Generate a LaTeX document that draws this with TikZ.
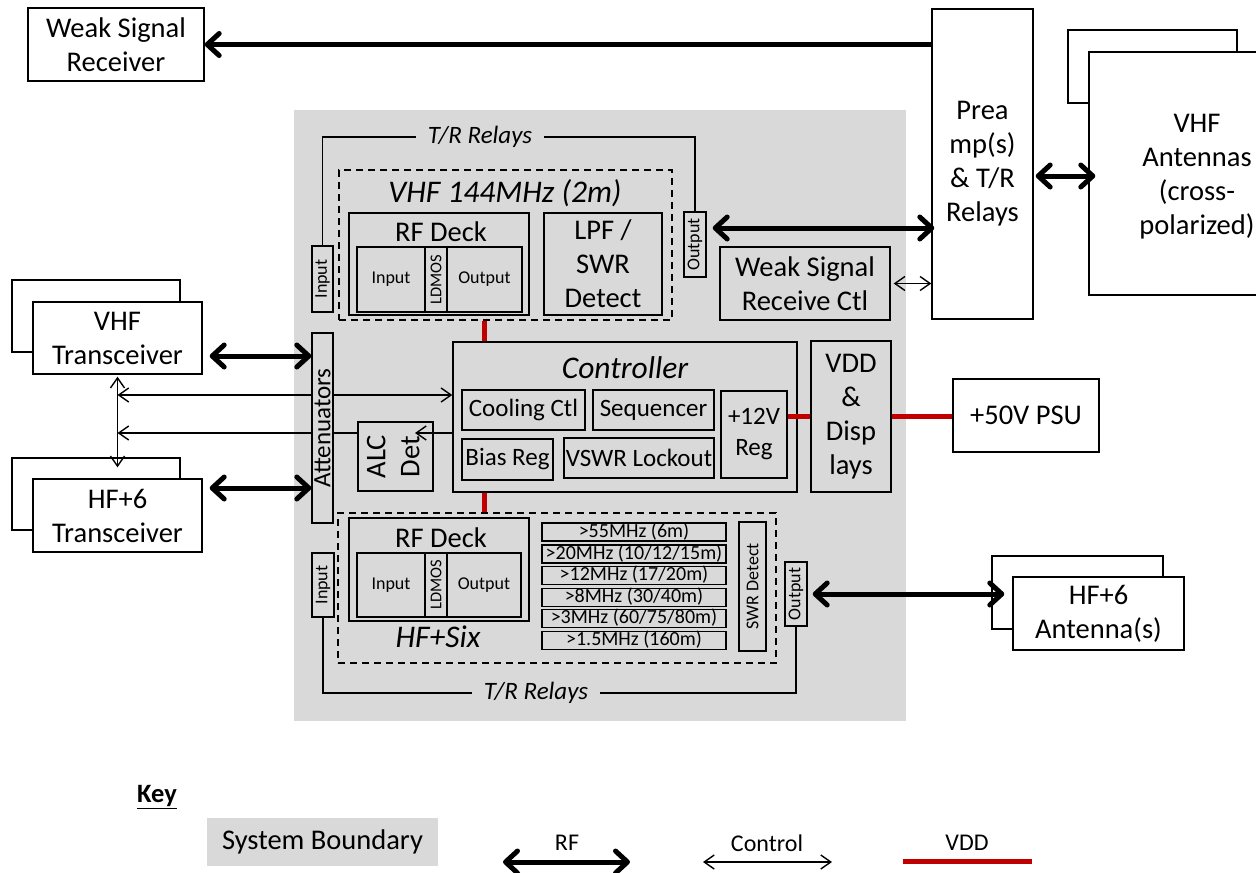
\documentclass[tikz,border=0pt]{standalone}
\usepackage{fontspec}
\setmainfont{Carlito}
\usetikzlibrary{arrows.meta,backgrounds}

\definecolor{sysgray}{HTML}{D9D9D9}
\definecolor{vddred}{HTML}{C00000}

\tikzset{
  rfhead/.tip={Straight Barb[length=12pt,width=22pt,round]},
  ctlhead/.tip={Straight Barb[length=10pt,width=14pt]},
}

\begin{document}
\begin{tikzpicture}[
  x=1pt, y=-1pt,
  blk/.style={draw, line width=1.4pt, fill=white, inner sep=0pt, align=center,
    font=\fontsize{28.5}{34}\selectfont},
  gblk/.style={blk, fill=sysgray},
  med/.style={font=\fontsize{25}{31}\selectfont},
  sml/.style={font=\fontsize{18}{21}\selectfont},
  band/.style={gblk, minimum width=184, minimum height=18, text height=14pt,
    text depth=4pt, font=\fontsize{20}{22}\selectfont},
  zone/.style={draw, line width=1.4pt, dash pattern=on 7pt off 5pt, inner sep=0pt},
  ttl/.style={inner sep=0pt, font=\fontsize{31.5}{37}\selectfont\itshape},
  relay/.style={fill=sysgray, inner xsep=12pt, inner ysep=2pt,
    font=\fontsize{25}{29}\selectfont\itshape},
  klbl/.style={inner sep=0pt, font=\fontsize{24}{28}\selectfont},
  wire/.style={line width=1.4pt},
  rf/.style={line width=5pt, arrows={rfhead-rfhead}},
  ctl/.style={line width=1.4pt, arrows={ctlhead-ctlhead}},
  vdd/.style={line width=5pt, vddred},
]
\useasboundingbox (0,0) rectangle (1256,873);

% system boundary
\begin{pgfonlayer}{background}
\node[fill=sysgray, inner sep=0pt, minimum width=612, minimum height=611] (sys) at (600,415.5) {};
\end{pgfonlayer}

% outside the boundary
\node[blk, minimum width=176, minimum height=73] (wsr) at (116,44.5) {Weak Signal\\Receiver};
\node[blk, minimum width=101, minimum height=310] (pre) at (982.5,164) {Prea\\mp(s)\\\& T/R\\Relays};
\node[blk, minimum width=169, minimum height=73] (vantb) at (1152.5,66.5) {};
\node[blk, minimum width=216, minimum height=243] (vant) at (1197,173.5) {};
\node[inner sep=0pt, align=center, font=\fontsize{28.5}{34}\selectfont] (vantt) at (1197,177) {VHF\\Antennas\\(cross-\\polarized)};
\node[blk, minimum width=168, minimum height=72] (vtxb) at (96,316) {};
\node[blk, minimum width=169, minimum height=72] (vtx) at (117.5,338) {VHF\\Transceiver};
\node[blk, minimum width=168, minimum height=72] (htxb) at (96,494) {};
\node[blk, minimum width=169, minimum height=73] (htx) at (117.5,515.5) {HF+6\\Transceiver};
\node[blk, minimum width=146, minimum height=73] (psu) at (1026,415.5) {+50V PSU};
\node[blk, minimum width=171, minimum height=73] (hantb) at (1077.5,592.5) {};
\node[blk, minimum width=171, minimum height=73] (hant) at (1098.5,613.5) {HF+6\\Antenna(s)};

% VHF deck
\node[relay] (vtr) at (480,137) {T/R Relays};
\node[zone, minimum width=333, minimum height=150] (vzone) at (505.5,245) {};
\node[ttl] (vname) at (505,193) {VHF 144MHz (2m)};
\node[gblk, sml, minimum width=21, minimum height=66] (vin) at (322.5,279) {\rotatebox{90}{Input}};
\node[gblk, sml, minimum width=22, minimum height=65] (vout) at (695,244.5) {\rotatebox{90}{Output}};
\node[gblk, minimum width=180, minimum height=102] (vrf) at (439,264) {};
\node[inner sep=0pt, font=\fontsize{28.5}{34}\selectfont] (vdeck) at (441,232) {RF Deck};
\node[gblk, sml, minimum width=68, minimum height=65] (vrfin) at (391,279.5) {Input};
\node[gblk, font=\fontsize{16.5}{19}\selectfont, minimum width=22, minimum height=65] (vld) at (436,279.5) {\rotatebox{90}{LDMOS}};
\node[gblk, sml, minimum width=75, minimum height=65] (vrfout) at (484.5,279.5) {Output};
\node[gblk, minimum width=118, minimum height=102] (vlpf) at (603,264) {LPF /\\SWR\\Detect};
\node[gblk, minimum width=170, minimum height=73] (wsctl) at (805,283.5) {Weak Signal\\Receive Ctl};

% controller
\node[gblk, med, minimum width=21, minimum height=190] (att) at (322.5,428) {\rotatebox{90}{Attenuators}};
\node[gblk, minimum width=75, minimum height=69] (alc) at (395.5,456.5)
  {\rotatebox{90}{\begin{tabular}{@{}c@{}}ALC\\Det\end{tabular}}};
\node[gblk, minimum width=344, minimum height=150] (ctrl) at (625,417) {};
\node[ttl] (cname) at (625,368) {Controller};
\node[gblk, med, minimum width=123, minimum height=40] (cool) at (523.5,410) {Cooling Ctl};
\node[gblk, med, minimum width=121, minimum height=40] (seq) at (653.5,410) {Sequencer};
\node[gblk, med, minimum width=91, minimum height=41] (bias) at (507.5,459.5) {Bias Reg};
\node[gblk, med, minimum width=150, minimum height=40] (vswr) at (639,458) {VSWR Lockout};
\node[gblk, med, minimum width=66, minimum height=87] (reg) at (754,434.5) {+12V\\Reg};
\node[gblk, minimum width=80, minimum height=151] (vddb) at (851,416.5) {VDD\\\&\\Disp\\lays};

% HF deck
\node[zone, minimum width=438, minimum height=150] (hzone) at (557,588) {};
\node[gblk, minimum width=180, minimum height=103] (hrf) at (439,569.5) {};
\node[inner sep=0pt, font=\fontsize{28.5}{34}\selectfont] (hdeck) at (441,538) {RF Deck};
\node[gblk, sml, minimum width=68, minimum height=64] (hrfin) at (391,585) {Input};
\node[gblk, font=\fontsize{16.5}{19}\selectfont, minimum width=22, minimum height=64] (hld) at (436,585) {\rotatebox{90}{LDMOS}};
\node[gblk, sml, minimum width=74, minimum height=64] (hrfout) at (484,585) {Output};
\node[ttl] (hname) at (438,637) {HF+Six};
\foreach \yb/\band [count=\i] in {532/{>55MHz (6m)}, 554/{>20MHz (10/12/15m)},
    575.5/{>12MHz (17/20m)}, 597.5/{>8MHz (30/40m)}, 618.5/{>3MHz (60/75/80m)},
    640.5/{>1.5MHz (160m)}}
  \node[band] (band\i) at (634,\yb) {\band};
\node[gblk, sml, minimum width=27, minimum height=129] (swr) at (752.5,586.5) {\rotatebox{90}{SWR Detect}};
\node[gblk, sml, minimum width=22, minimum height=64] (hin) at (323,585) {\rotatebox{90}{Input}};
\node[gblk, sml, minimum width=22, minimum height=64] (hout) at (796,594) {\rotatebox{90}{Output}};
\node[relay] (htr) at (536,693) {T/R Relays};

% relay loops
\draw[wire] (vin.north) |- (vtr) -| (vout.north);
\draw[wire] (hin.south) |- (htr) -| (hout.south);

% RF paths
\coordinate (voutr) at ([yshift=16.5pt]vout.east);
\coordinate (vtxr) at ([yshift=-18pt]vtx.east);
\coordinate (htxr) at ([yshift=27.5pt]htx.east);
\draw[rf, arrows={-rfhead}] (pre.west |- wsr) -- (wsr.east);
\draw[rf, shorten <=6pt, shorten >=-3pt] (voutr) -- (voutr -| pre.west);
\draw[rf, shorten <=2pt, shorten >=-7pt] ([yshift=-2.5pt]vant.west -| pre.east) -- ([yshift=-2.5pt]vant.west);
\draw[rf, shorten <=7pt] (vtxr) -- (vtxr -| att.west);
\draw[rf, shorten <=7pt] (htxr) -- (htxr -| att.west);
\draw[rf, shorten <=5pt, shorten >=8pt] (hout.east) -- (hout.east -| hant.west);

% control paths
\coordinate (tapa) at (117.5,395);
\coordinate (tapb) at (117.5,433);
\coordinate (alcin) at (415,433);
\begin{pgfonlayer}{background}
\draw[ctl] (tapa) -- (tapa -| ctrl.west);
\draw[ctl, arrows={-ctlhead}] (tapb -| alc.west) -- (tapb);
\end{pgfonlayer}
\draw[ctl, shorten <=2pt] (vtx.south) -- ([yshift=11pt]htx.north);
\draw[ctl, arrows={-ctlhead}] (alcin -| ctrl.west) -- (alcin);
\draw[ctl, shorten <=3pt] (wsctl.east) -- (wsctl.east -| pre.west);

% VDD
\draw[vdd] (vzone.south -| vrfout) -- (ctrl.north -| vrfout);
\draw[vdd] (ctrl.south -| hrfout) -- (hzone.north -| hrfout);
\draw[vdd] (vddb.west -| reg.east) -- (vddb.west);
\draw[vdd] (vddb.east) -- (vddb.east -| psu.west);

% key
\node[inner sep=0pt, font=\fontsize{26.5}{31}\selectfont\bfseries] (key) at (157,797) {\underline{Key}};
\node[gblk, draw=none, minimum width=231, minimum height=48] (kbound) at (322.5,842) {System Boundary};
\coordinate (krfa) at (503,862);
\coordinate (krfb) at (630,862);
\coordinate (kctla) at (703,862);
\coordinate (kctlb) at (832,862);
\coordinate (kvdda) at (903,861);
\coordinate (kvddb) at (1032,861);
\draw[rf] (krfa) -- (krfb);
\draw[ctl] (kctla) -- (kctlb);
\draw[vdd] (kvdda) -- (kvddb);
\node[klbl] (krf) at (567,843) {RF};
\node[klbl] (kctl) at (767,843) {Control};
\node[klbl] (kvdd) at (967,843) {VDD};

\end{tikzpicture}
\end{document}
